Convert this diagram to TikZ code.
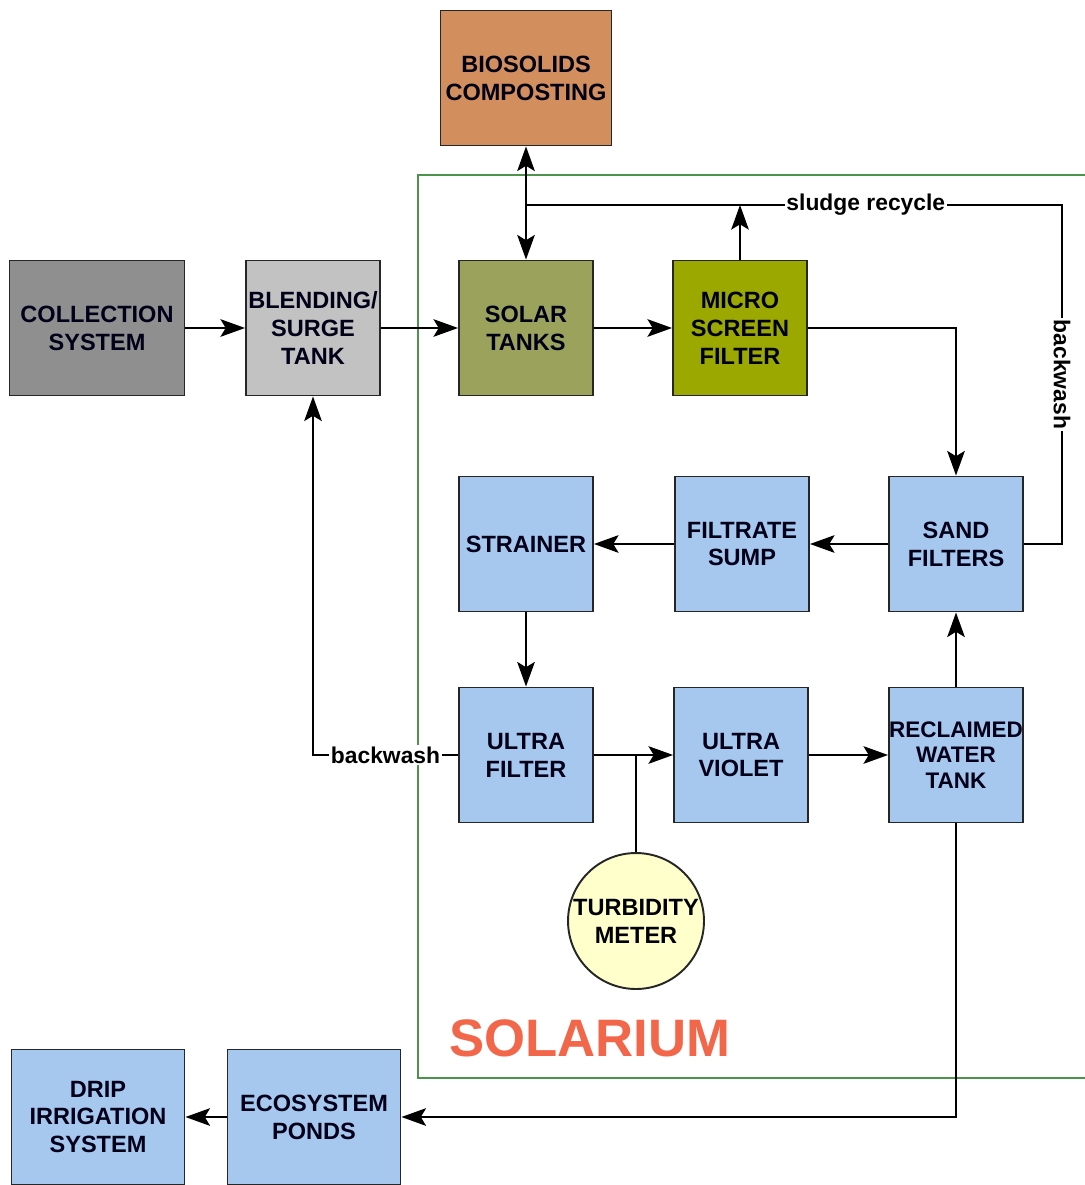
\documentclass[tikz,border=0pt]{standalone}
\usepackage{fontspec}
\setmainfont{Liberation Sans}
\usepackage{tikz}
\usetikzlibrary{shapes,arrows.meta}
\definecolor{boxblue}{HTML}{A6C8EE}
\definecolor{boxgray}{HTML}{8F8F8F}
\definecolor{boxlight}{HTML}{C2C2C2}
\definecolor{boxolive}{HTML}{9BA25C}
\definecolor{boxlime}{HTML}{9AA800}
\definecolor{boxbrown}{HTML}{D38E5E}
\definecolor{meteryellow}{HTML}{FFFFCC}
\definecolor{framegreen}{HTML}{4C944C}
\definecolor{titlered}{HTML}{F2664A}
\tikzstyle{unit} = [rectangle, minimum width=2.68cm, minimum height=2.7cm, text width=2.68cm, align=center, draw=black!85, line width=1.1pt, font=\fontsize{13.4}{15.9}\selectfont\bfseries, text=black!90!blue, inner sep=0pt]
\tikzstyle{wideunit} = [unit, minimum width=3.46cm, text width=3.46cm]
\tikzstyle{meter} = [circle, minimum size=2.72cm, text centered, align=center, draw=black!85, line width=1.1pt, fill=meteryellow, font=\fontsize{13.4}{15.9}\selectfont\bfseries, inner sep=0pt]
\tikzstyle{flow} = [line width=1.2pt, ->, >={Stealth[length=14pt,width=10pt,inset=3pt]}]
\tikzstyle{line} = [line width=1.2pt]
\tikzstyle{lbl} = [fill=white, inner sep=1pt, font=\fontsize{13}{15}\selectfont\bfseries]

\begin{document}
\begin{tikzpicture}[x=0.02cm, y=-0.02cm]
\useasboundingbox (0,0) rectangle (1084,1185);
\fill[white] (0,0) rectangle (1084,1185);
\draw[framegreen, line width=0.9pt] (1090,175) -- (418,175) -- (418,1078) -- (1090,1078);
\node (solarium) [text=titlered, font=\fontsize{30}{34}\selectfont\bfseries] at (590,1038) {SOLARIUM};

\node (bio) [wideunit, fill=boxbrown, minimum width=3.42cm, text width=3.42cm] at (526,78) {BIOSOLIDS\\COMPOSTING};
\node (coll) [wideunit, fill=boxgray, minimum width=3.5cm, text width=3.5cm] at (97,328) {COLLECTION\\SYSTEM};
\node (blend) [unit, fill=boxlight] at (313,328) {BLENDING/\\SURGE\\TANK};
\node (solar) [unit, fill=boxolive] at (526,328) {SOLAR\\TANKS};
\node (micro) [unit, fill=boxlime] at (740,328) {MICRO\\SCREEN\\FILTER};
\node (sand) [unit, fill=boxblue] at (956,544) {SAND\\FILTERS};
\node (sump) [unit, fill=boxblue] at (742,544) {FILTRATE\\SUMP};
\node (strain) [unit, fill=boxblue] at (526,544) {STRAINER};
\node (uf) [unit, fill=boxblue] at (526,755) {ULTRA\\FILTER};
\node (uv) [unit, fill=boxblue] at (741,755) {ULTRA\\VIOLET};
\node (recl) [unit, fill=boxblue, font=\fontsize{12.8}{14.5}\selectfont\bfseries] at (956,755) {RECLAIMED\\WATER\\TANK};
\node (turb) [meter] at (636,921) {TURBIDITY\\METER};
\node (eco) [wideunit, fill=boxblue] at (314,1117) {ECOSYSTEM\\PONDS};
\node (drip) [wideunit, fill=boxblue] at (98,1117) {DRIP\\IRRIGATION\\SYSTEM};

\coordinate (srcorner) at (1062,205);
\coordinate (bwcorner) at (1062,544);

\draw [flow] (coll) -- (blend);
\draw [flow] (blend) -- (solar);
\draw [flow, <->] (solar) -- (bio);
\draw [flow] (solar) -- (micro);
\draw [flow] (micro.east) -| (sand.north);
\draw [flow] (micro.north) -- (micro.north |- srcorner);
\draw [line] (sand.east) -- (bwcorner) -- node[lbl, rotate=-90, pos=0.5] {backwash} (srcorner) -- node[lbl, pos=0.366] {sludge recycle} (solar.north |- srcorner);
\draw [flow] (sand) -- (sump);
\draw [flow] (sump) -- (strain);
\draw [flow] (strain) -- (uf);
\draw [flow] (uf) -- (uv);
\draw [line] (turb.north) -- (turb.north |- uf.east);
\draw [flow] (uv) -- (recl);
\draw [flow] (recl) -- (sand);
\draw [flow] (uf.west) -- node[lbl] {backwash} (blend.south |- uf.west) -- (blend.south);
\draw [flow] (recl.south) |- (eco.east);
\draw [flow] (eco) -- (drip);
\end{tikzpicture}
\end{document}
